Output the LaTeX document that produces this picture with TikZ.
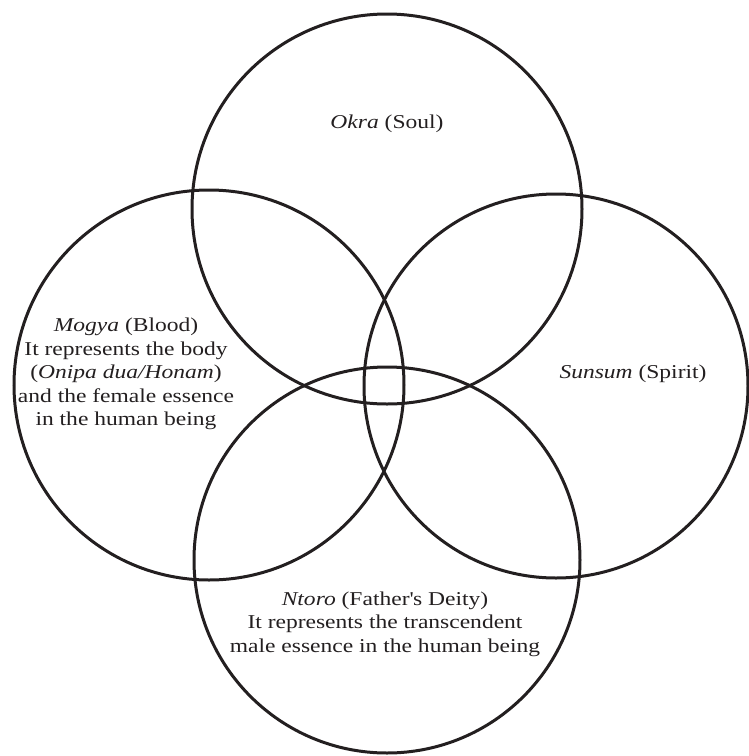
\documentclass[tikz,border=0pt]{standalone}
\usepackage{fontspec}
\setmainfont{Liberation Serif}[FakeStretch=1.2]
\definecolor{ink}{HTML}{231F20}
\tikzset{
  ring/.style={draw=ink, line width=3pt},
  lbl/.style={text=ink, font=\fontsize{19.6}{23.6}\selectfont, align=center, inner sep=0pt}
}
\begin{document}
\begin{tikzpicture}[x=1pt,y=-1pt]
\useasboundingbox (0,0) rectangle (749,756);
\coordinate (ct) at (387,209);
\coordinate (cl) at (209,385);
\coordinate (cr) at (556,386);
\coordinate (cb) at (387,560);
\draw[ring] (ct) circle[radius=195];
\draw[ring] (cl) circle[radius=195];
\draw[ring] (cr) circle[radius=192];
\draw[ring] (cb) circle[radius=193];
\node[lbl] (okra) at (387,124) {\textit{Okra} (Soul)};
\node[lbl] (mogya) at (126,374) {\textit{Mogya} (Blood)\\It represents the body\\(\textit{Onipa dua/Honam})\\and the female essence\\in the human being};
\node[lbl] (sunsum) at (633,374) {\textit{Sunsum} (Spirit)};
\node[lbl] (ntoro) at (385,624) {\textit{Ntoro} (Father\textquotesingle s Deity)\\It represents the transcendent\\male essence in the human being};
\end{tikzpicture}
\end{document}
